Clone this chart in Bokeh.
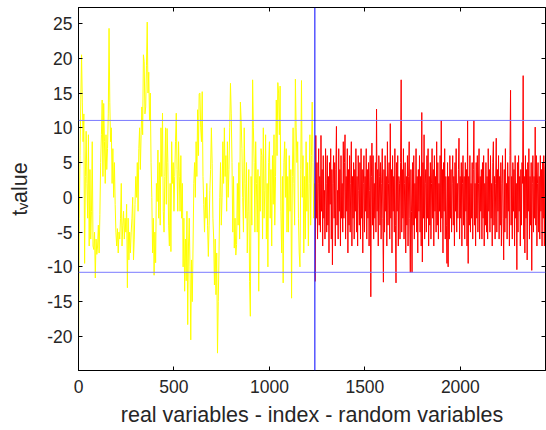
import numpy as np
from bokeh.plotting import figure
from bokeh.models import (Span, LinearAxis, FixedTicker, Range1d,
                          PrintfTickFormatter, CustomJSTickFormatter)
from bokeh.embed import file_html
from bokeh.resources import INLINE

# ---- data ----
real_start, real_step = 0, 4
real_t = [
    -21.7, -3, 6, 14, 20.5, 13.7, 8, 12, -9.5, 3,
    9.5, 2, -3, 9, -7, 4, -6, -2, 8, -7,
    -7.5, -5, -11.6, -6, -8.2, -7, -4, -8, -2.5, 5,
    9, 14, 3, 13.5, 8, 2, 9, 4, 7, 12,
    24.3, 13.6, 8, 10, 2, 7, 0, 5, -1, -5,
    -7, -4.5, -8, -5, -6, -3, 2, -7, -4, -2,
    -6, -3, -5, -1, -13, -3, -9, -5, -8, -5,
    -3, 0, -9, -6, -1, 3, 0, 5, -2, 7,
    10, 4, 9, 13, 9, 20.5, 19.5, 12, 13, 19,
    25.2, 15, 18, 11, 15, 5, 0, -8, -3, -11.2,
    -5, -9.4, 2, -0.6, 6.8, -3, 5, -4, 10, 3,
    12.1, -2, -5, 3, 10, -1, 9.9, 5, -4, -7,
    2, -7.8, 8, 2, 5, -2, 3, 8, 12.1, 4,
    -2, 8, 3, -2, 6, -3, 2, -10, -3, -13.5,
    -6, -12, -2, -18.3, -7, -3, -10, -20.5, -9, -15,
    -7, 2, 5, 0, 8, 3, 12.6, 6, 14.9, 15,
    10, 8, 15.2, 3, -1, -5, 0, -3, 2, -4,
    -8.5, -4, 1, 4, 10, 4.9, -3, -6, -12.6, -6,
    -14, -8, -22.4, -15, -8, 0, 5, -4, 0, 8,
    2, 10, 3, 6, -2, 8, 0, 4, 10, 16.4,
    12, 5, -5, 3, -7.3, -3, -8.3, -6.8, 2, -4,
    5, -6, 13.7, 11, 7, 0, -5, 10, 2, -3,
    5, -8, -2, 4, -12.1, -17.1, 3, -4, 16.9, 10,
    5, -5, 8, 2, -5, 4, -13.5, 3, -2, 7,
    6, -6, 10, -3, 1, 9, -6, 2, -10, 5,
    8, -3, 4, -7, 6, -1, 9, -4, 3, 14,
    6, 16.5, 15, 9, 16, -2, -8, 3, -12.3, 5,
    8, 0, 7, -5, 3, -5, 6, -2, 4, -14.5,
    3, 10, 2, -4, 17, 10, 5, 8, -3, -8,
    -10, 4, 16.8, 0, 6, -8, 3, -6, 8, -2,
    5, -7, 2, 9, -4, 6, 13.7, 5, -3, 2,
]

random_start, random_step = 1240, 3
random_t = [
    -12.1, 8.9, -3, 5, -6, 2, 7, -4, 3, -5,
    8.9, -2, 4, -7, 6, -3, 1, -6, 7, 2,
    -5, 6, -4, 3, -8, 5, -1, 7, -6, 4,
    -9.7, 2, 6, -3, 5, -7, 4, 10.2, -4, 1,
    -6, 7, -2, 4, -7, 6, -3, 2, -5, 8,
    -3, 5, 9, -6, 3, -2, 7, -8, 4, -4,
    6, -5, 2, 8, -7, 3, -3, 5, -6, 4,
    -2, 7, -5, 3, -7, 6, 1, -4, 5, -6,
    7, -3, 4, -8, 2, 6, -5, 3, -2, 7,
    -6, 4, -3, 5, -7, 1, 6, -14.3, 3, 7.8,
    -4, 6, -6, 2, -3, 5, -5, 12.7, -2, 4,
    -7, 6, 3, -4, 5, -6, 2, 7, -3, -12.2,
    4, -5, 6, -2, 3, -7, 8, -4, 2, 5,
    -6, 10.6, -3, 4, -8, 6, -2, 3, -5, 7,
    -4, -12.3, 5, -2, 6, -7, 3, 2, -6, 5,
    16.9, -5, 4, -3, 7, -6, 2, 5, -8, 3,
    -4, 6, -7, 3, 8, -3, -10.8, 4, -2, -10.8,
    5, -4, 6, -6, 2, -3, 7, -5, 3, -8,
    4, -2, 6, -5, 3, -7, 12.2, -9.3, 5, -3,
    9, -6, 2, 4, -5, 6, -3, 7, -7, 3,
    -4, 5, -6, 2, 7, -3, 4, -7, 6, -2,
    3, -5, 8, -4, 5, -6, 2, -2, 6, -5,
    11.1, -3, 4, -8, 5, -2, 7, -6, 3, -4,
    -9.5, 5, -10, 3, -6, 6, -3, 4, -5, 2,
    6, -4, 3, -7, 5, -2, 7, -5, 2, -3,
    4, 8.5, -6, 3, -3, 5, -7, 2, 6, -4,
    3, -6, 5, -2, 4, -7, 11.1, -9.5, 3, -4,
    6, -5, 2, -3, 5, -6, 4, 11.1, -4, 2,
    -7, 5, -3, 6, -5, 2, 7, -6, 3, -2,
    4, -6, 5, -3, 6, -7, 2, -4, 5, -5,
    3, -6, 7, -2, 4, -5, 6, -3, 2, -7,
    5, 8, -4, 3, -6, 2, 8.5, -5, 4, -2,
    6, -6, 3, -4, 5, -7, 2, 6, -3, -9,
    4, -5, 7, -3, 2, -6, 5, -2, 3, -7,
    6, 15.4, -4, 3, -6, 5, -2, 4, -7, 6,
    -3, 2, -10.4, 5, -5, 6, -2, 3, -7, 4,
    -4, 5, 2, 17.5, -6, 3, -8, 6, -3, 4,
    -9, 5, -2, 7, -6, 3, -4, 5, -10.5, 2,
    6, -5, 3, -3, 10.1, -4, 6, -7, 2, 5,
    -5, 3, -6, 6, -2, 4, -7, 5, -3, 6,
    -7, 4, 5,
]

split_index = 1238
thresholds = [11.06, -10.78]
x_ticks = [0, 500, 1000, 1500, 2000]
y_ticks = [-20, -15, -10, -5, 0, 5, 10, 15, 20, 25]
x_limits = (0, 2446)
y_limits = (-24.9, 27.3)

x_label = "real variables - index - random variables"
y_label = "t\u1d65alue"   # t_value rendered with v as subscript

FONT = "Liberation Sans"
TEXT = "#262626"

real_x = real_start + real_step * np.arange(len(real_t))
random_x = random_start + random_step * np.arange(len(random_t))

p = figure(width=546, height=430, output_backend="svg", toolbar_location=None,
           x_range=Range1d(*x_limits), y_range=Range1d(*y_limits),
           min_border_left=78, min_border_right=1, min_border_top=7,
           min_border_bottom=60)
p.background_fill_color = "white"
p.border_fill_color = "white"
p.outline_line_color = "black"
p.outline_line_width = 1
p.xgrid.visible = False
p.ygrid.visible = False

p.line(real_x, real_t, line_color="#FFFF00", line_width=1)
p.line(random_x, random_t, line_color="#FF0000", line_width=1)

for th in thresholds:
    p.add_layout(Span(location=th, dimension="width", line_color="#7b7bff", line_width=1))
p.add_layout(Span(location=split_index, dimension="height", line_color="#0000FF", line_width=1))

def style_axis(ax, ticks, show_labels):
    ax.ticker = FixedTicker(ticks=ticks)
    ax.major_tick_in = 4
    ax.major_tick_out = 0
    ax.minor_tick_line_color = None
    ax.axis_line_color = "black"
    ax.major_tick_line_color = "black"
    ax.major_label_text_font = FONT
    ax.major_label_text_color = TEXT
    if show_labels:
        ax.major_label_text_font_size = "17.5px"
        ax.formatter = PrintfTickFormatter(format="%d")
    else:
        ax.formatter = CustomJSTickFormatter(code="return ''")
        ax.major_label_standoff = 0

style_axis(p.xaxis[0], x_ticks, True)
style_axis(p.yaxis[0], y_ticks, True)
p.xaxis[0].major_label_standoff = 9
p.yaxis[0].major_label_standoff = 6
p.xaxis[0].axis_label = x_label
p.xaxis[0].axis_label_standoff = 7
p.yaxis[0].axis_label = y_label
p.yaxis[0].axis_label_standoff = 12
for ax in (p.xaxis[0], p.yaxis[0]):
    ax.axis_label_text_font = FONT
    ax.axis_label_text_font_size = "21.5px"
    ax.axis_label_text_font_style = "normal"
    ax.axis_label_text_color = TEXT

top_ax = LinearAxis()
right_ax = LinearAxis()
style_axis(top_ax, x_ticks, False)
style_axis(right_ax, y_ticks, False)
p.add_layout(top_ax, "above")
p.add_layout(right_ax, "right")

open("out.html", "w").write(file_html(p, INLINE))
